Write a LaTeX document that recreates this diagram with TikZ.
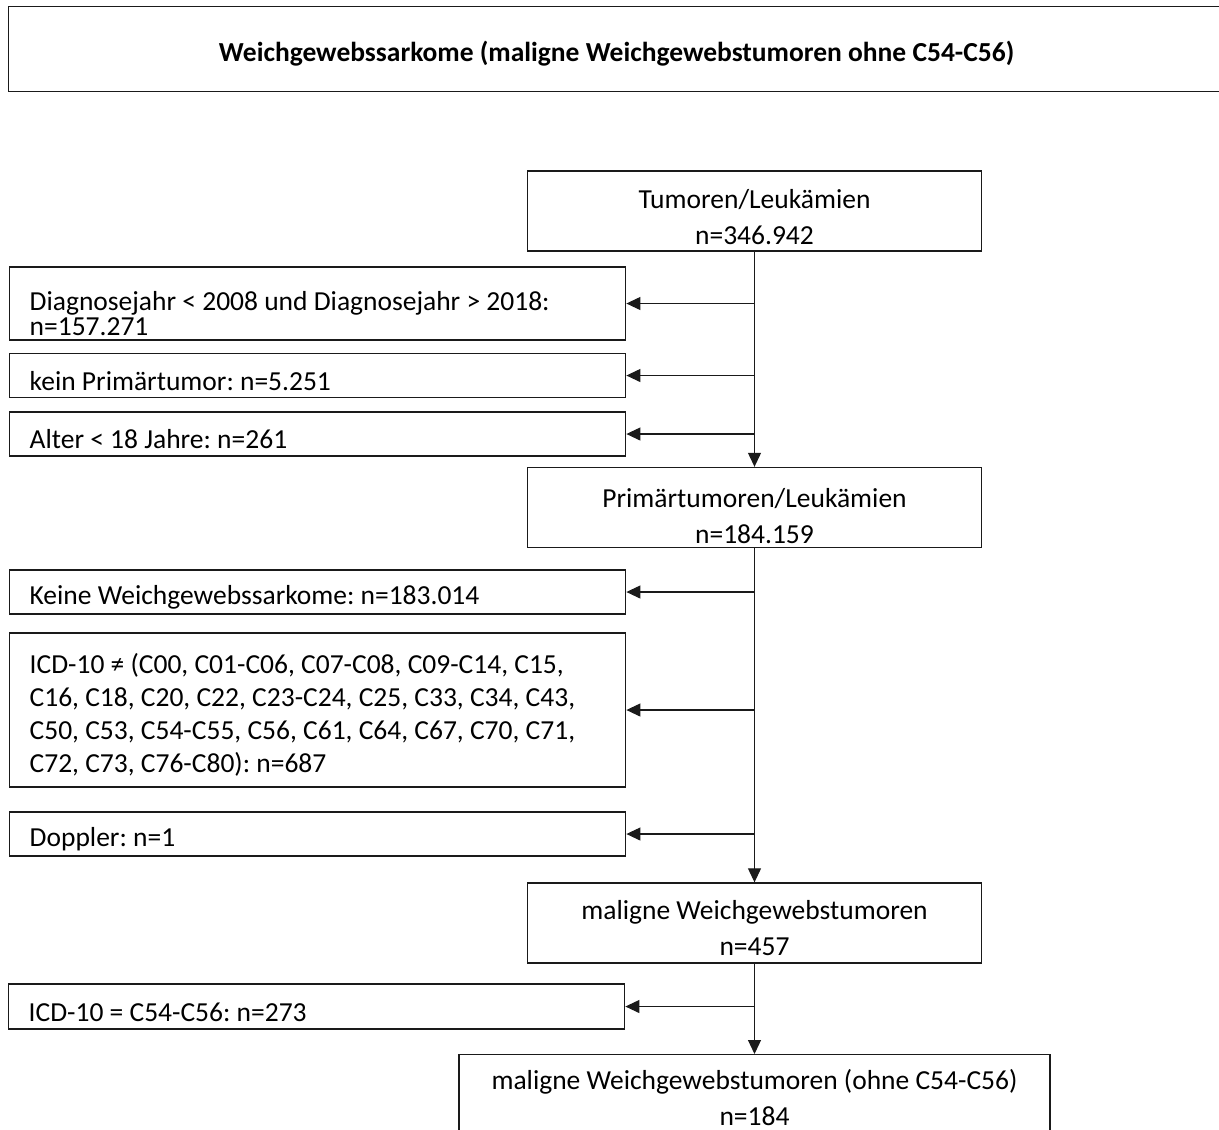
\documentclass[tikz,border=0pt]{standalone}
\usepackage{fontspec}
\setmainfont{Carlito}
\usetikzlibrary{arrows.meta,positioning,calc}
\definecolor{ink}{HTML}{1A1A1A}
\newcommand\lift[1]{\rule{0pt}{#1}}
\frenchspacing

\begin{document}
\begin{tikzpicture}[
    x=0.4pt, y=-0.4pt,
    font=\fontsize{11pt}{14.4pt}\selectfont,
    push/.style={execute at begin node={\lift{#1}}},
    box/.style={draw=ink, line width=0.55pt, inner sep=0pt, align=center},
    stage/.style={box, minimum width=181.6pt, minimum height=32pt},
    excl/.style={box, anchor=west, minimum width=246.4pt, text width=230.4pt, inner xsep=8pt, align=flush left, font=\fontsize{11pt}{13.2pt}\selectfont, push=12pt},
    arrow/.style={-{Triangle[length=5.6pt,width=5.2pt]}, line width=0.45pt, draw=ink}
  ]
    \useasboundingbox (0,0) rectangle (1219,1129);
    \node[box, anchor=north west, minimum width=486.4pt, minimum height=34pt, font=\bfseries\fontsize{11pt}{13pt}\selectfont] (title) at (8,6) {\lift{12pt}Weichgewebssarkome (maligne Weichgewebstumoren ohne C54-C56)};
    \node[stage] (tumor) at (754.5,211) {\lift{12.5pt}Tumoren/Leukämien\\n=346.942};
    \node[excl, minimum height=29.2pt, font=\fontsize{11pt}{10pt}\selectfont, push=16pt] (year) at (9,303.5) {Diagnosejahr < 2008 und Diagnosejahr > 2018:\\n=157.271};
    \node[excl, minimum height=17.4pt] (noprim) at (9,375.5) {kein Primärtumor: n=5.251};
    \node[excl, minimum height=17.6pt] (age) at (9,434) {Alter < 18 Jahre: n=261};
    \node[stage] (prim) at (754.5,507.5) {\lift{14.5pt}Primärtumoren/Leukämien\\n=184.159};
    \node[excl, minimum height=17.6pt] (nosarc) at (9,592) {Keine Weichgewebssarkome: n=183.014};
    \node[excl, minimum height=61.6pt, push=0pt] (icd) at (9,710) {ICD-10 ≠ (C00, C01-C06, C07-C08, C09-C14, C15,\\C16, C18, C20, C22, C23-C24, C25, C33, C34, C43,\\C50, C53, C54-C55, C56, C61, C64, C67, C70, C71,\\C72, C73, C76-C80): n=687};
    \node[excl, minimum height=17.6pt] (dup) at (9,834) {Doppler: n=1};
    \node[stage] (soft) at (754.5,923) {\lift{12pt}maligne Weichgewebstumoren\\n=457};
    \node[excl, minimum width=245.6pt, minimum height=18pt] (uterus) at (8,1006.5) {ICD-10 = C54-C56: n=273};
    \node[stage, anchor=north, minimum width=236.4pt] (final) at (754.5,1054) {\lift{10.5pt}maligne Weichgewebstumoren (ohne C54-C56)\\n=184};
    \draw[arrow] (tumor) -- (prim);
    \draw[arrow] (prim) -- (soft);
    \draw[arrow] (soft) -- (final);
    \draw[arrow] (tumor.south |- year.east) -- (year.east);
    \draw[arrow] (tumor.south |- noprim.east) -- (noprim.east);
    \draw[arrow] (tumor.south |- age.east) -- (age.east);
    \draw[arrow] (prim.south |- nosarc.east) -- (nosarc.east);
    \draw[arrow] (prim.south |- icd.east) -- (icd.east);
    \draw[arrow] (prim.south |- dup.east) -- (dup.east);
    \draw[arrow] (soft.south |- uterus.east) -- (uterus.east);
\end{tikzpicture}
\end{document}
